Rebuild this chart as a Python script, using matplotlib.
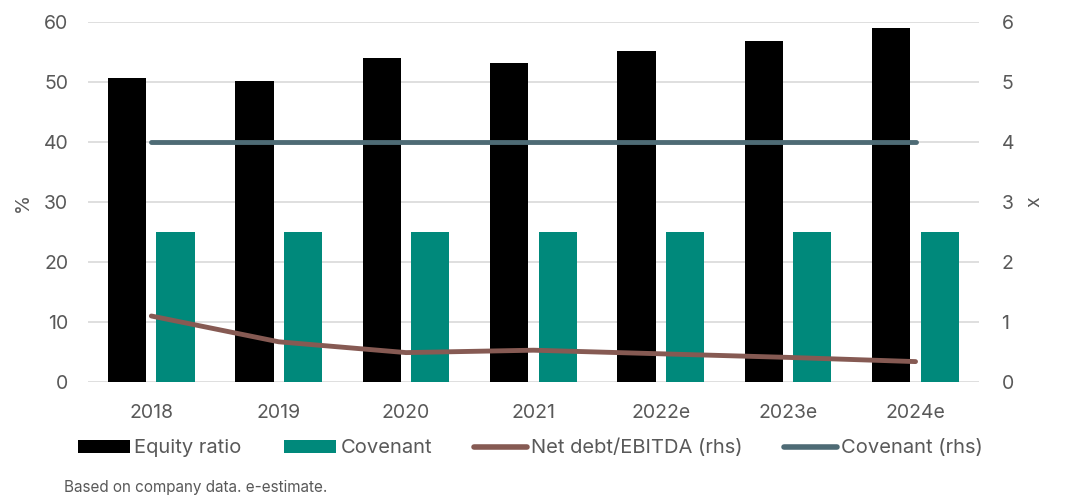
import numpy as np
import matplotlib
matplotlib.use('Agg')
import matplotlib.pyplot as plt
from matplotlib.patches import Patch
from matplotlib.lines import Line2D

plt.rcParams['font.family'] = ['Inter', 'DejaVu Sans']

# Data
years = ['2018', '2019', '2020', '2021', '2022e', '2023e', '2024e']
equity_ratio = [50.7, 50.1, 54.0, 53.2, 55.1, 56.9, 59.0]
covenant_pct = [25, 25, 25, 25, 25, 25, 25]
net_debt_ebitda = [1.10, 0.67, 0.49, 0.53, 0.47, 0.41, 0.34]
covenant_x = [4, 4, 4, 4, 4, 4, 4]

text_col = '#595959'
grid_col = '#d9d9d9'

fig = plt.figure(figsize=(10.69, 5.0), dpi=100)
ax = fig.add_axes([0.082, 0.236, 0.834, 0.72])
ax2 = ax.twinx()

x = np.arange(len(years))
w = 0.3
ax.bar(x - 0.19, equity_ratio, width=w, color='black', zorder=2)
ax.bar(x + 0.19, covenant_pct, width=w, color='#00897b', zorder=2)

ax2.plot(x, net_debt_ebitda, color='#865a53', lw=3.5, solid_capstyle='round', zorder=3)
ax2.plot(x, covenant_x, color='#4e6b75', lw=3.5, solid_capstyle='round', zorder=3)

ax.set_ylim(0, 60)
ax.set_yticks(range(0, 61, 10))
ax2.set_ylim(0, 6)
ax2.set_yticks(range(0, 7))
ax.set_xlim(-0.5, len(years) - 0.5)
ax.set_xticks(x)
ax.set_xticklabels(years)

ax.yaxis.grid(True, color=grid_col, lw=1.2, zorder=0)
ax.set_axisbelow(True)
ax2.set_zorder(ax.get_zorder() + 1)
ax2.patch.set_visible(False)

for a in (ax, ax2):
    for s in a.spines.values():
        s.set_visible(False)
    a.tick_params(length=0, labelsize=14, colors=text_col)
ax.tick_params(axis='y', pad=14)
ax2.tick_params(axis='y', pad=16)
ax.tick_params(axis='x', pad=16)

ax.set_ylabel('%', fontsize=14, color=text_col, labelpad=8)
ax2.set_ylabel('x', fontsize=14, color=text_col, labelpad=8)

handles = [
    Patch(facecolor='black', label='Equity ratio'),
    Patch(facecolor='#00897b', label='Covenant'),
    Line2D([], [], color='#865a53', lw=4, solid_capstyle='round', label='Net debt/EBITDA (rhs)'),
    Line2D([], [], color='#4e6b75', lw=4, solid_capstyle='round', label='Covenant (rhs)'),
]
leg = fig.legend(handles=handles, loc='center', bbox_to_anchor=(0.496, 0.104), ncol=4,
                 frameon=False, fontsize=14.5, handlelength=2.6, handleheight=0.6,
                 handletextpad=0.2, columnspacing=2.1)
for t in leg.get_texts():
    t.set_color(text_col)

fig.text(0.06, 0.016, 'Based on company data. e-estimate.', fontsize=11, color=text_col)

fig.savefig('out.png', dpi=100)
